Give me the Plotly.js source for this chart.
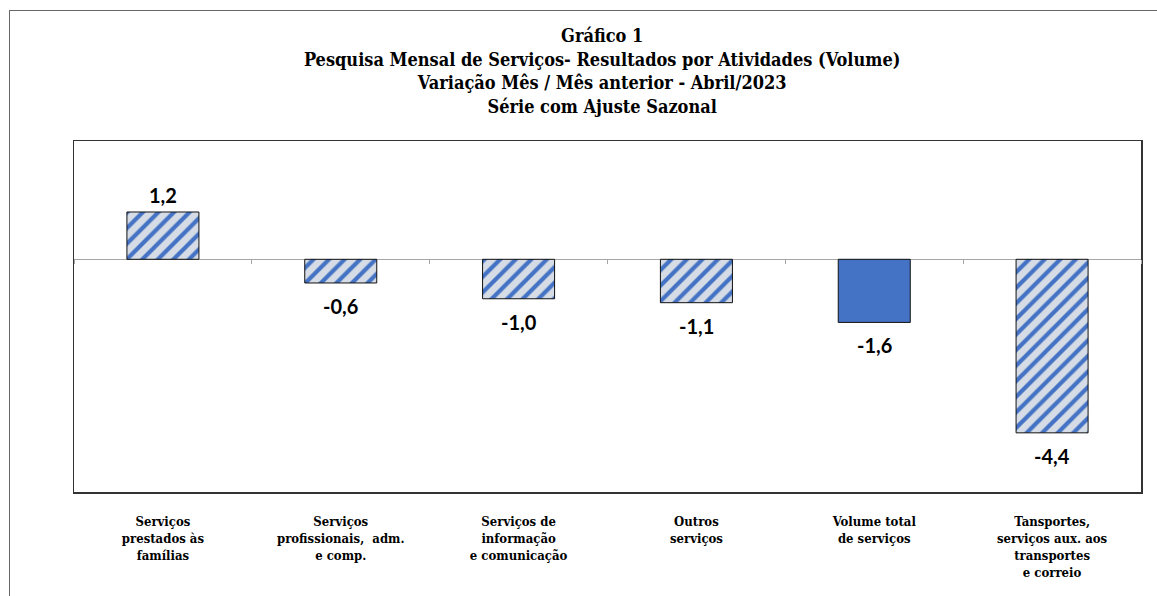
<!DOCTYPE html>
<html>
<head>
<meta charset="utf-8">
<script src="https://cdn.plot.ly/plotly-3.0.1.min.js"></script>
<style>
  html, body { margin: 0; padding: 0; background: #fff; }
  #wrap { position: relative; width: 1157px; height: 596px; }
  #chart { width: 1157px; height: 596px; }
  #frame { position: absolute; left: 9px; top: 10px; right: -5px; bottom: -5px;
           border-left: 1px solid #666; border-top: 1px solid #666; pointer-events: none; }
</style>
</head>
<body>
<div id="wrap">
  <div id="chart"></div>
  <div id="frame"></div>
</div>
<script>
// ---- data ----
const categories = [
  "Serviços<br>prestados às<br>famílias",
  "Serviços<br>profissionais,  adm.<br>e comp.",
  "Serviços de<br>informação<br>e comunicação",
  "Outros<br>serviços",
  "Volume total<br>de serviços",
  "Tansportes,<br>serviços aux. aos<br>transportes<br>e correio"
];
const values = [1.2, -0.6, -1.0, -1.1, -1.6, -4.4];
const valueLabels = ["1,2", "-0,6", "-1,0", "-1,1", "-1,6", "-4,4"];
const isTotal = [false, false, false, false, true, false];

// ---- styles ----
const BLUE = "#4472C4";
const LIGHT = "#D6DCE5";
const SERIF = "'DejaVu Serif Condensed', 'DejaVu Serif', serif";

const titleText = "<b>Gráfico 1</b><br><b>Pesquisa Mensal de Serviços- Resultados por Atividades (Volume)</b><br>" +
  "<b>Variação Mês / Mês anterior - Abril/2023</b><br><b>Série com Ajuste Sazonal</b>";

const tickText = categories.map(c => c.split("<br>").map(s => "<b>" + s + "</b>").join("<br>"));

const hatchedTrace = {
  type: "bar",
  x: categories,
  y: values.map((v, i) => isTotal[i] ? null : v),
  width: 0.405,
  marker: {
    color: LIGHT,
    line: { color: "#111", width: 1 },
    pattern: { shape: "/", fgcolor: BLUE, bgcolor: LIGHT, fgopacity: 1, size: 11, solidity: 0.38, fillmode: "replace" }
  },
  hoverinfo: "skip",
  showlegend: false
};

const solidTrace = {
  type: "bar",
  x: categories,
  y: values.map((v, i) => isTotal[i] ? v : null),
  width: 0.405,
  marker: { color: BLUE, line: { color: "#111", width: 1 } },
  hoverinfo: "skip",
  showlegend: false
};

const yRange = [-5.9, 3];
const zeroPos = (0 - yRange[0]) / (yRange[1] - yRange[0]);

const tickTrace = {
  type: "scatter", mode: "markers", x: categories, y: values,
  xaxis: "x2", yaxis: "y", marker: { opacity: 0 }, hoverinfo: "skip", showlegend: false
};

const annotations = values.map((v, i) => ({
  x: categories[i], y: v, xref: "x", yref: "y",
  text: "<b>" + valueLabels[i] + "</b>",
  showarrow: false,
  yanchor: v >= 0 ? "bottom" : "top",
  yshift: v >= 0 ? 3 : -9,
  font: { family: "Lato, 'Liberation Sans', sans-serif", size: 20, color: "#000" }
}));

const layout = {
  width: 1157, height: 596,
  margin: { l: 74, r: 16, t: 141, b: 104 },
  paper_bgcolor: "#fff", plot_bgcolor: "#fff",
  title: {
    text: titleText,
    font: { family: SERIF, size: 18, color: "#000" },
    xref: "paper", x: 0.495, xanchor: "center",
    yref: "container", y: 0.929, yanchor: "top"
  },
  barmode: "overlay",
  bargap: 0,
  xaxis: {
    type: "category",
    showline: true, mirror: true, linecolor: "#333", linewidth: 1.5,
    showgrid: false, ticks: "", zeroline: false,
    tickmode: "array", tickvals: categories, ticktext: tickText,
    tickfont: { family: SERIF, size: 13, color: "#000" },
    ticklabelstandoff: 17,
    fixedrange: true
  },
  xaxis2: {
    type: "category", overlaying: "x", matches: "x", anchor: "free", position: zeroPos,
    side: "bottom", showline: false, showgrid: false, showticklabels: false,
    ticks: "outside", tickson: "boundaries", ticklen: 4, tickcolor: "#a6a6a6", tickwidth: 1,
    fixedrange: true
  },
  yaxis: {
    range: yRange,
    showline: true, mirror: true, linecolor: "#333", linewidth: 1.5,
    showgrid: false, showticklabels: false, ticks: "",
    zeroline: true, zerolinecolor: "#a6a6a6", zerolinewidth: 1.5,
    fixedrange: true
  },
  annotations: annotations
};

Plotly.newPlot("chart", [hatchedTrace, solidTrace, tickTrace], layout, { staticPlot: true, displayModeBar: false });
</script>
</body>
</html>
